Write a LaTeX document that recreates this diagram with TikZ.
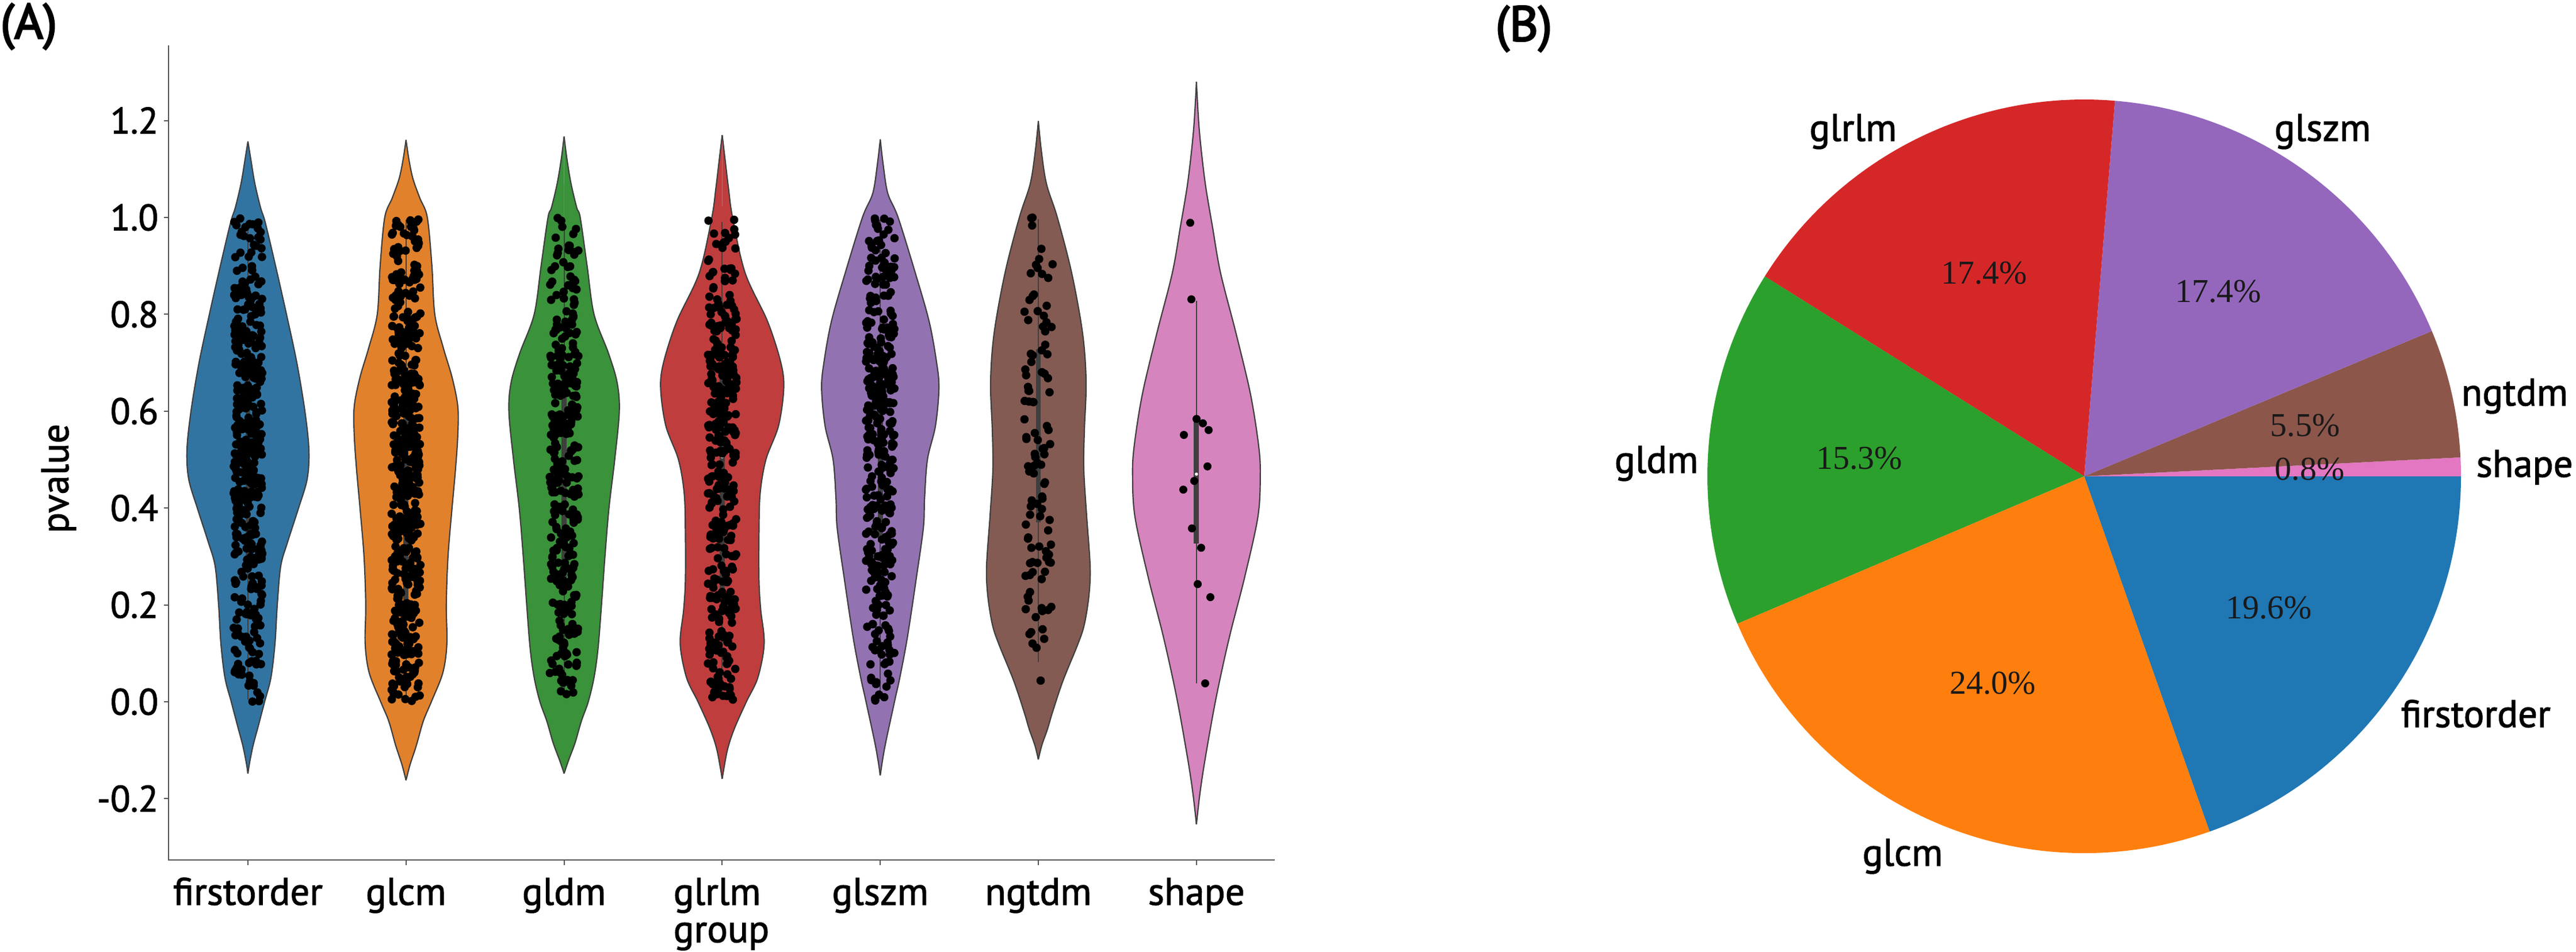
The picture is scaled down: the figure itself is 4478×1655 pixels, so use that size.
\documentclass[tikz,border=0pt]{standalone}
\usepackage{fontspec}
\setmainfont{PT Sans}[FakeBold=1.6]
\newfontfamily\panfont{PT Sans}[FakeBold=3]
\newfontfamily\pctfont{Liberation Serif}
\definecolor{vblue}{HTML}{3274A1}
\definecolor{vorange}{HTML}{E1812C}
\definecolor{vgreen}{HTML}{3A923A}
\definecolor{vred}{HTML}{C03D3E}
\definecolor{vpurple}{HTML}{9372B2}
\definecolor{vbrown}{HTML}{845B53}
\definecolor{vpink}{HTML}{D684BD}
\definecolor{tblue}{HTML}{1F77B4}
\definecolor{torange}{HTML}{FF7F0E}
\definecolor{tgreen}{HTML}{2CA02C}
\definecolor{tred}{HTML}{D62728}
\definecolor{tpurple}{HTML}{9467BD}
\definecolor{tbrown}{HTML}{8C564B}
\definecolor{tpink}{HTML}{E377C2}
\definecolor{vline}{HTML}{3F3F3F}
\definecolor{axcol}{HTML}{555555}
\tikzset{
  vout/.style={draw=vline, line width=0.62pt, line join=round},
  whisk/.style={draw=vline, line width=0.55pt},
  boxl/.style={draw=vline, line width=2.5pt},
  axisline/.style={draw=axcol, line width=0.6pt},
  ticklab/.style={font=\fontsize{18.2}{20}\selectfont, inner sep=0pt},
  xlab/.style={font=\fontsize{19}{21}\selectfont, inner sep=0pt},
  pielab/.style={font=\fontsize{19}{21}\selectfont, inner sep=0pt},
  pctlab/.style={font=\pctfont\fontsize{16.5}{18}\selectfont, inner sep=0pt, text=black!90},
  panlab/.style={font=\panfont\fontsize{24.5}{26}\selectfont, inner sep=0pt},
  dot/.style={fill=black}
}
\newcommand\violinshape[3]{%
  \begin{scope}[shift={(#1,0)}]
    \fill[#3] plot[smooth, tension=0.55] coordinates {#2} -- ++(-1.5,0) -- cycle;
    \fill[#3, xscale=-1] plot[smooth, tension=0.55] coordinates {#2} -- cycle;
    \draw[vout] plot[smooth, tension=0.55] coordinates {#2};
    \draw[vout, xscale=-1] plot[smooth, tension=0.55] coordinates {#2};
  \end{scope}}
\newcommand\violinbox[6]{%
  \draw[whisk] (#1,#2) -- (#1,#3);
  \draw[boxl] (#1,#4) -- (#1,#5);
  \fill[white] (#1,#6) circle[radius=0.028cm];}
\newcommand\violinpts[2]{%
  \foreach \n [count=\b from 0] in {#2} {
    \foreach \k in {1,...,\n} {
      \fill[dot] ({#1+25*rand},{(\b+rnd)/10}) circle[radius=0.073cm];
    }
  }}
\begin{document}
\begin{tikzpicture}[x=0.01cm,y=-0.01cm]
\useasboundingbox (0,0) rectangle (4478,1655);
\fill[white] (0,0) rectangle (4478,1655);
\pgfmathsetseed{4242}

% ---------------- Panel A ----------------
\node[panlab, anchor=west] (labA) at (0,46) {(A)};

\begin{scope}[shift={(0,1220)}, y=8.415cm]
  % violins
  \violinshape{431}{(0,1.157) (5,1.12) (12,1.07) (22,1.02) (30,0.99) (48,0.9) (67,0.8) (85,0.7) (99,0.6) (106,0.52) (103,0.46) (88,0.4) (69,0.33) (57,0.28) (51,0.2) (47,0.12) (40,0.05) (29,0.0) (18,-0.05) (9,-0.09) (3,-0.125) (0,-0.148)}{vblue}
  \violinshape{705.8}{(0,1.16) (5,1.12) (12,1.08) (24,1.04) (37,1.0) (45,0.9) (50,0.8) (65,0.73) (80,0.67) (90,0.61) (90,0.55) (86,0.48) (80,0.4) (73,0.3) (70,0.2) (71,0.12) (64,0.06) (44,0.0) (30,-0.04) (18,-0.09) (7,-0.13) (0,-0.162)}{vorange}
  \violinshape{980.6}{(0,1.167) (5,1.12) (12,1.07) (22,1.02) (28,1.0) (40,0.9) (52,0.8) (77,0.72) (92,0.66) (96,0.6) (88,0.5) (78,0.4) (71,0.3) (65,0.2) (59,0.11) (52,0.05) (42,0.0) (30,-0.04) (19,-0.085) (8,-0.12) (0,-0.148)}{vgreen}
  \violinshape{1255.4}{(0,1.17) (5,1.12) (11,1.06) (18,1.0) (40,0.885) (79,0.785) (102,0.70) (107,0.647) (98,0.57) (76,0.5) (66,0.43) (64,0.35) (64,0.25) (67,0.19) (73,0.12) (62,0.05) (42,0.0) (21,-0.056) (9,-0.1) (0,-0.159)}{vred}
  \violinshape{1530.2}{(0,1.161) (5,1.11) (13,1.05) (31,1.0) (61,0.885) (85,0.785) (98,0.7) (102,0.647) (96,0.57) (82,0.5) (77,0.42) (75,0.36) (63,0.258) (47,0.132) (34,0.05) (26,0.007) (10,-0.081) (4,-0.12) (0,-0.152)}{vpurple}
  \violinshape{1805}{(0,1.199) (5,1.14) (14,1.07) (33,1.0) (58,0.885) (77,0.76) (83,0.66) (80,0.56) (79,0.48) (84,0.383) (90,0.28) (88,0.22) (80,0.16) (69,0.12) (43,0.044) (25,-0.02) (16,-0.056) (6,-0.09) (0,-0.119)}{vbrown}
  \violinshape{2079.8}{(0,1.28) (5,1.18) (15,1.073) (28,0.98) (42,0.885) (69,0.76) (94,0.635) (108,0.53) (111,0.47) (107,0.383) (84,0.258) (57,0.132) (34,0.007) (15,-0.119) (6,-0.19) (0,-0.253)}{vpink}
  % inner boxes
  \violinbox{431}{0.005}{0.995}{0.30}{0.68}{0.52}
  \violinbox{705.8}{0.0}{0.995}{0.20}{0.69}{0.46}
  \violinbox{980.6}{0.01}{0.995}{0.24}{0.70}{0.50}
  \violinbox{1255.4}{0.02}{0.99}{0.22}{0.67}{0.506}
  \violinbox{1530.2}{0.02}{0.995}{0.33}{0.74}{0.549}
  \violinbox{1805}{0.082}{0.996}{0.37}{0.728}{0.537}
  \violinbox{2079.8}{0.038}{0.828}{0.327}{0.584}{0.47}
  % strip points
  \violinpts{431}{23,29,32,43,60,64,56,46,35,23}
  \violinpts{705.8}{44,53,53,55,61,66,62,44,35,31}
  \violinpts{980.6}{25,30,32,36,40,44,44,32,22,16}
  \violinpts{1255.4}{32,37,34,34,36,48,55,47,29,14}
  \violinpts{1530.2}{17,26,32,38,42,48,54,47,37,24}
  \violinpts{1805}{1,12,14,14,13,13,13,12,10,7}
  \foreach \px/\pv in {2069/0.989, 2071/0.831, 2080/0.584, 2091/0.575, 2101/0.561, 2058/0.551, 2099/0.486, 2076/0.456, 2057/0.438, 2072/0.358, 2088/0.318, 2082/0.243, 2104/0.216, 2095/0.038}
    \fill[dot] (\px,\pv) circle[radius=0.07cm];
  % y ticks
  \foreach \v/\t [count=\i] in {-0.2/-0.2, 0/0.0, 0.2/0.2, 0.4/0.4, 0.6/0.6, 0.8/0.8, 1.0/1.0, 1.2/1.2} {
    \draw[axisline] (285,\v) -- (293,\v);
    \node[ticklab, anchor=east] (yt\i) at (276,\v) {\t};
  }
\end{scope}
% axes spines
\draw[axisline] (293,79) -- (293,1495) -- (2216,1495);
\foreach \xx [count=\i] in {431,705.8,980.6,1255.4,1530.2,1805,2079.8}
  \draw[axisline] (\xx,1495) -- (\xx,1504);
\node[xlab, anchor=base] (xl1) at (431,1573) {firstorder};
\node[xlab, anchor=base] (xl2) at (705.8,1573) {glcm};
\node[xlab, anchor=base] (xl3) at (980.6,1573) {gldm};
\node[xlab, anchor=base west] (xl4) at (1170,1573) {glrlm};
\node[xlab, anchor=base west] (xl4b) at (1170,1638) {group};
\node[xlab, anchor=base] (xl5) at (1530.2,1573) {glszm};
\node[xlab, anchor=base] (xl6) at (1805,1573) {ngtdm};
\node[xlab, anchor=base] (xl7) at (2079.8,1573) {shape};
\node[xlab, rotate=90, anchor=center] (ylab) at (102,832) {pvalue};

% ---------------- Panel B ----------------
\node[panlab, anchor=west] (labB) at (2599,50) {(B)};
\begin{scope}[shift={(3623,828)}, y=0.01cm]
  \fill[tblue]   (0,0) -- (289.44:655) arc[start angle=289.44, end angle=360,    radius=655] -- cycle;
  \fill[tpink]   (0,0) -- (0:655)      arc[start angle=0,      end angle=2.88,   radius=655] -- cycle;
  \fill[tbrown]  (0,0) -- (2.88:655)   arc[start angle=2.88,   end angle=22.68,  radius=655] -- cycle;
  \fill[tpurple] (0,0) -- (22.68:655)  arc[start angle=22.68,  end angle=85.32,  radius=655] -- cycle;
  \fill[tred]    (0,0) -- (85.32:655)  arc[start angle=85.32,  end angle=147.96, radius=655] -- cycle;
  \fill[tgreen]  (0,0) -- (147.96:655) arc[start angle=147.96, end angle=203.04, radius=655] -- cycle;
  \fill[torange] (0,0) -- (203.04:655) arc[start angle=203.04, end angle=289.44, radius=655] -- cycle;
\end{scope}
\node[pctlab, anchor=base] (p1) at (3449,494) {17.4\%};
\node[pctlab, anchor=base] (p2) at (3856,526) {17.4\%};
\node[pctlab, anchor=base] (p3) at (3232,815) {15.3\%};
\node[pctlab, anchor=base] (p4) at (3464,1206) {24.0\%};
\node[pctlab, anchor=base] (p5) at (3944,1075) {19.6\%};
\node[pctlab, anchor=base] (p6) at (4007,758) {5.5\%};
\node[pctlab, anchor=base] (p7) at (4015,834) {0.8\%};
\node[pielab, anchor=base east] (l1) at (3298,245) {glrlm};
\node[pielab, anchor=base west] (l2) at (3953,245) {glszm};
\node[pielab, anchor=base west] (l3) at (4278,705) {ngtdm};
\node[pielab, anchor=base west] (l4) at (4304,829) {shape};
\node[pielab, anchor=base east] (l5) at (2953,822) {gldm};
\node[pielab, anchor=base east] (l6) at (3378,1505) {glcm};
\node[pielab, anchor=base west] (l7) at (4173,1264) {firstorder};
\end{tikzpicture}
\end{document}
